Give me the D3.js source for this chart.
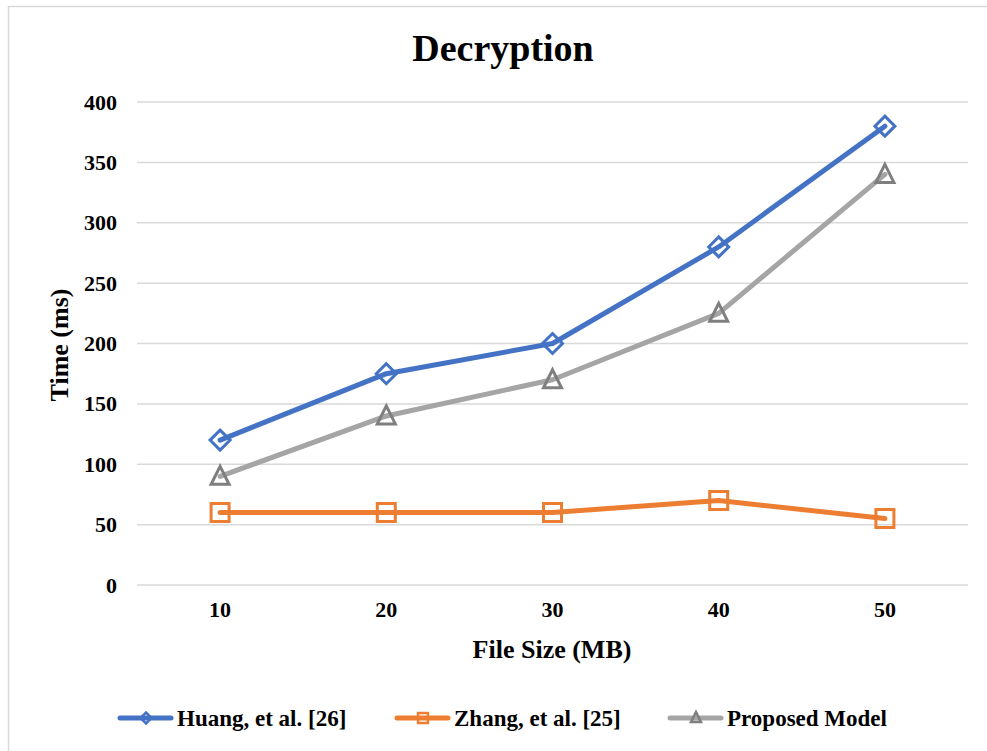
<!DOCTYPE html>
<html><head><meta charset="utf-8">
<script src="https://cdn.jsdelivr.net/npm/d3@7"></script>
<style>body{margin:0;background:#fff}svg{display:block}</style>
</head><body>
<script>
const categories = ["10","20","30","40","50"];
const huang = [120,175,200,280,380];
const zhang = [60,60,60,70,55];
const proposed = [90,140,170,225,340];
const yTicks = [0,50,100,150,200,250,300,350,400];
const seriesNames = ["Huang, et al. [26]","Zhang, et al. [25]","Proposed Model"];

const W=987,H=751;
const svg=d3.select("body").append("svg").attr("width",W).attr("height",H);
const font="'Liberation Serif','Times New Roman',serif";
svg.append("rect").attr("x",8.5).attr("y",6.5).attr("width",W+10).attr("height",H+10)
  .attr("fill","#fff").attr("stroke","#d9d9d9").attr("stroke-width",1.5);

const x=d3.scaleBand().domain(categories).range([137,968]);
const y=d3.scaleLinear().domain([0,400]).range([585,102]);

svg.append("g").selectAll("line").data(yTicks).join("line")
  .attr("x1",137).attr("x2",968).attr("y1",d=>y(d)).attr("y2",d=>y(d))
  .attr("stroke","#d9d9d9").attr("stroke-width",1.5);

const ya=svg.append("g").attr("transform","translate(137,0)")
  .call(d3.axisLeft(y).tickValues(yTicks).tickSize(0).tickPadding(20));
ya.select(".domain").remove();
ya.selectAll("text").attr("font-family",font).attr("font-weight","bold").attr("font-size",22).attr("fill","#000");

const xa=svg.append("g").attr("transform","translate(0,585)")
  .call(d3.axisBottom(x).tickSize(0).tickPadding(16));
xa.select(".domain").remove();
xa.selectAll("text").attr("font-family",font).attr("font-weight","bold").attr("font-size",22).attr("fill","#000");

svg.append("text").attr("x",503).attr("y",61).attr("text-anchor","middle")
  .attr("font-family",font).attr("font-weight","bold").attr("font-size",38).text("Decryption");
svg.append("text").attr("x",552).attr("y",658).attr("text-anchor","middle")
  .attr("font-family",font).attr("font-weight","bold").attr("font-size",26).text("File Size (MB)");
svg.append("text").attr("transform","translate(68,345) rotate(-90)").attr("text-anchor","middle")
  .attr("font-family",font).attr("font-weight","bold").attr("font-size",26).text("Time (ms)");

const series=[
  {name:seriesNames[0],vals:huang,color:"#4472c4",mcolor:"#4472c4",shape:"diamond"},
  {name:seriesNames[1],vals:zhang,color:"#ed7d31",mcolor:"#ed7d31",shape:"square"},
  {name:seriesNames[2],vals:proposed,color:"#a5a5a5",mcolor:"#7f7f7f",shape:"triangle"}
];
const cx=c=>x(c)+x.bandwidth()/2;
function marker(g,shape,px,py,color,k,sw){
  let p;
  if(shape==="diamond"){const s=10*k;p=`M${px},${py-s}L${px+s},${py}L${px},${py+s}L${px-s},${py}Z`;}
  else if(shape==="square"){const s=9*k;p=`M${px-s},${py-s}h${2*s}v${2*s}h${-2*s}Z`;}
  else {const s=9*k;p=`M${px},${py-s-1}L${px+s},${py+s-1}L${px-s},${py+s-1}Z`;}
  g.append("path").attr("d",p).attr("fill","none").attr("stroke",color).attr("stroke-width",sw).attr("stroke-linejoin","miter");
}
const line=d3.line().x((d,i)=>cx(categories[i])).y(d=>y(d));
series.forEach(s=>{
  svg.append("path").datum(s.vals).attr("d",line).attr("fill","none")
    .attr("stroke",s.color).attr("stroke-width",5).attr("stroke-linecap","round").attr("stroke-linejoin","round");
});
series.forEach(s=>{
  const g=svg.append("g");
  s.vals.forEach((v,i)=>marker(g,s.shape,cx(categories[i]),y(v),s.mcolor,1,3));
});

const lx=[118,395,668];
series.forEach((s,i)=>{
  const g=svg.append("g");
  g.append("line").attr("x1",lx[i]+2).attr("x2",lx[i]+53).attr("y1",718).attr("y2",718)
    .attr("stroke",s.color).attr("stroke-width",5).attr("stroke-linecap","round");
  marker(g,s.shape,lx[i]+28,718,s.mcolor,0.55,2.5);
  g.append("text").attr("x",lx[i]+59).attr("y",726).attr("font-family",font)
    .attr("font-weight","bold").attr("font-size",23).text(s.name);
});
</script>
</body></html>
